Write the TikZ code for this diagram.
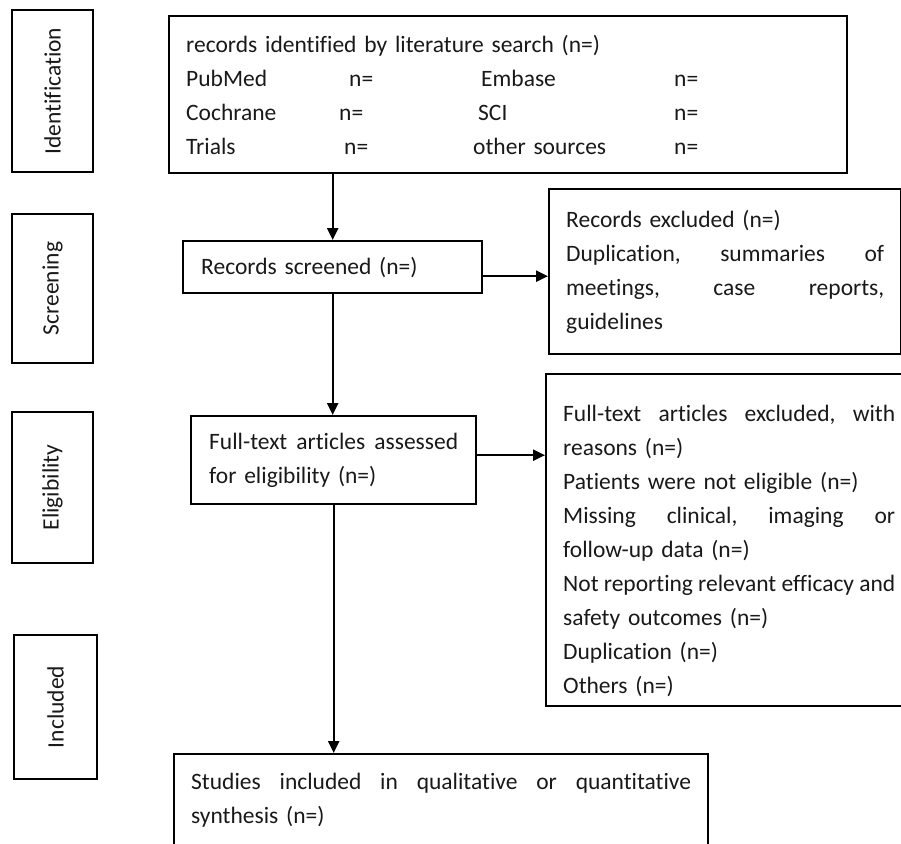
\documentclass[tikz,border=0pt]{standalone}
\usepackage{fontspec}
\setmainfont{Carlito}[Ligatures = NoCommon]
\usepackage{tikz}
\usetikzlibrary{positioning, arrows.meta}

\newcommand{\dbcol}[2]{\makebox[#1][l]{#2}}

\begin{document}
\begin{tikzpicture}[x = 1pt, y = -1pt,
  >={Triangle[length = 12pt, width = 11pt]},
  every node/.style = {font = \fontsize{23.5pt}{34pt}\selectfont, text = black!90},
  stage/.style = {draw, line width = 2.4pt, rotate = 90, inner sep = 0pt},
  box/.style = {draw, line width = 2.4pt, anchor = north west, align = left,
    inner xsep = 17pt, inner ysep = 0pt},
  flow/.style = {->, line width = 2.2pt}]
\useasboundingbox (0, 0) rectangle (901, 843);
\clip (0, 0) rectangle (901, 843);
% phase labels
\node [stage, minimum width = 162pt, minimum height = 81pt] (ident) at (52.5, 91) {Identification};
\node [stage, minimum width = 149pt, minimum height = 81pt] (scr) at (52.5, 288.5) {Screening};
\node [stage, minimum width = 151pt, minimum height = 81pt] (elg) at (52.5, 487.5) {Eligibility};
\node [stage, minimum width = 144pt, minimum height = 83pt] (incl) at (55.5, 707) {Included};
% flow boxes
\node [box, text width = 644pt, minimum height = 157pt] (search) at (168, 15)
  {records identified by literature search (n=)\\
   \dbcol{163pt}{PubMed}\dbcol{132pt}{n=}\dbcol{193pt}{Embase}n=\\
   \dbcol{153pt}{Cochrane}\dbcol{139pt}{n=}\dbcol{196pt}{SCI}n=\\
   \dbcol{158pt}{Trials}\dbcol{129pt}{n=}\dbcol{201pt}{other sources}n=};
\node [box, text width = 263pt, minimum height = 52pt, inner xsep = 18pt] (screen) at (182, 240)
  {Records screened (n=)};
\node [box, text width = 318pt, minimum height = 165pt] (excl) at (548, 188)
  {Records excluded (n=)\\
   Duplication,\hfill summaries\hfill of\\
   meetings,\hfill case\hfill reports,\\
   guidelines};
\node [box, text width = 249pt, minimum height = 88pt, inner xsep = 18pt] (elig) at (190, 415)
  {Full-text\hfill articles\hfill assessed\\
   for eligibility (n=)};
\node [box, text width = 332pt, minimum height = 332pt] (ftex) at (545, 373)
  {\rule{0pt}{37pt}Full-text\hfill articles\hfill excluded,\hfill with\\
   reasons (n=)\\
   Patients were not eligible (n=)\\
   Missing\hfill clinical,\hfill imaging\hfill or\\
   follow-up data (n=)\\
   {\spaceskip = 2.5pt plus 3pt minus 1pt \makebox[\hsize][s]{Not reporting relevant efficacy and}}\\
   safety outcomes (n=)\\
   Duplication (n=)\\
   Others (n=)};
\node [box, text width = 500pt, minimum height = 93pt] (stud) at (173, 753)
  {Studies\hfill included\hfill in\hfill qualitative\hfill or\hfill quantitative\\
   synthesis (n=)};
% connectors
\draw [flow] (search.south -| screen.north) -- (screen.north);
\draw [flow] ([yshift = -9pt]screen.east) -- ([yshift = -9pt]screen.east -| excl.west);
\draw [flow] (screen.south) -- (screen.south |- elig.north);
\draw [flow] ([yshift = 5pt]elig.east) -- ([yshift = 5pt]elig.east -| ftex.west);
\draw [flow] (elig.south) -- (elig.south |- stud.north);
\end{tikzpicture}
\end{document}
